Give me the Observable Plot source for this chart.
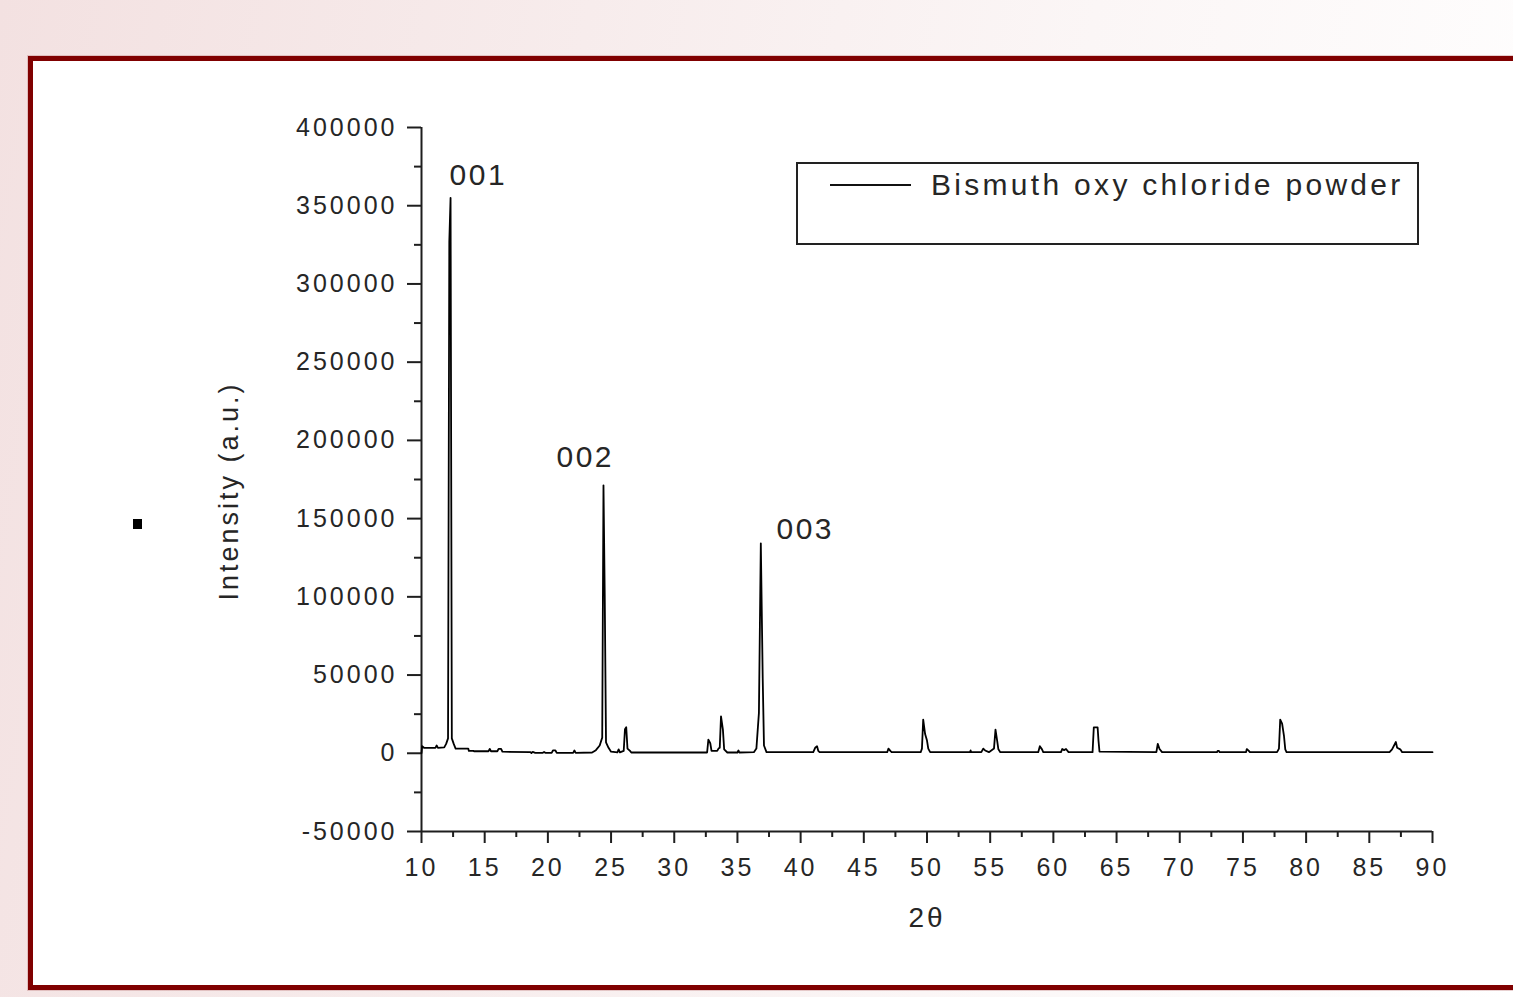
<!DOCTYPE html>
<html>
<head>
<meta charset="utf-8">
<script src="https://cdn.jsdelivr.net/npm/d3@7"></script>
<script src="https://cdn.jsdelivr.net/npm/@observablehq/plot@0.6"></script>
<style>
  html, body { margin: 0; padding: 0; width: 1513px; height: 997px; overflow: hidden; }
  body {
    background: linear-gradient(100deg, #f3e1e1 0%, #f7ecec 35%, #fbf6f6 65%, #ffffff 100%);
    font-family: "Liberation Sans", Arial, sans-serif;
    position: relative;
  }
  #frame {
    position: absolute; left: 28px; top: 56px; width: 1530px; height: 934px;
    box-sizing: border-box; border: 5px solid #800000; background: #fff;
    box-shadow: 0 0 0 1px rgba(190,120,120,0.35);
  }
  #chart { position: absolute; left: 0; top: 0; }
  #chart svg { overflow: visible; background: transparent; }
  #chart text { fill: #262626; }
  #chart g[aria-label="y-axis tick label"] text,
  #chart g[aria-label="x-axis tick label"] text { letter-spacing: 3px; }
  #chart g.peaklab text { letter-spacing: 2.5px; }
  .title { position: absolute; font-size: 27px; line-height: 28px; letter-spacing: 3px; color: #262626; white-space: nowrap; }
  #ytitle { left: 229px; top: 491px; transform: translate(-50%, -50%) rotate(-90deg); }
  #xtitle { left: 927px; top: 918px; transform: translate(-50%, -50%); font-size: 28px; }
  #legend {
    position: absolute; left: 796px; top: 162px; width: 623px; height: 83px;
    box-sizing: border-box; border: 2px solid #222; background: #fff;
  }
  #legline { position: absolute; left: 830px; top: 184px; width: 81px; height: 2px; background: #111; }
  #legtext {
    position: absolute; left: 931px; top: 170px; font-size: 30px; line-height: 30px;
    letter-spacing: 3.3px; color: #262626; white-space: nowrap;
  }
  #marker { position: absolute; left: 133px; top: 519px; width: 9px; height: 10px; background: #000; }
</style>
</head>
<body>
<div id="frame"></div>
<div id="marker"></div>
<div id="legend"></div>
<div id="legline"></div>
<div id="legtext"></div>
<div id="ytitle" class="title"></div>
<div id="xtitle" class="title"></div>
<div id="chart"></div>
<script>
// ---- data ----
const seriesName = "Bismuth oxy chloride powder";
const xTitle = "2θ";
const yTitle = "Intensity (a.u.)";

const twoTheta = [
  10.0, 10.05, 10.2, 10.6, 11.1, 11.2, 11.3, 11.8, 11.95, 12.1, 12.2, 12.3, 12.4, 12.55, 12.7,
  13.7, 13.75, 14.1, 14.15, 15.3, 15.4, 15.5, 16.0, 16.1, 16.3, 16.4, 18.6, 18.7, 18.8, 19.0,
  19.6, 19.7, 19.8, 20.3, 20.4, 20.6, 20.7, 22.0, 22.1, 22.2, 23.5, 23.8, 24.1, 24.3, 24.4,
  24.5, 24.6, 24.8, 25.0, 25.5, 25.6, 25.7, 26.0, 26.1, 26.2, 26.3, 26.5, 26.6, 32.6, 32.7,
  32.85, 32.95, 33.4, 33.5, 33.6, 33.7, 33.85, 33.95, 34.2, 35.0, 35.08, 35.15, 36.3, 36.5, 36.7,
  36.85, 37.0, 37.1, 37.3, 41.0, 41.15, 41.3, 41.4, 41.5, 46.85, 46.95, 47.1, 47.2, 49.5, 49.6,
  49.7, 49.85, 50.0, 50.1, 50.25, 53.4, 53.45, 53.5, 54.3, 54.45, 54.6, 54.9, 55.3, 55.42, 55.55,
  55.65, 55.8, 58.8, 58.93, 59.1, 59.2, 60.6, 60.7, 60.85, 61.0, 61.2, 63.1, 63.2, 63.5, 63.57,
  63.65, 68.15, 68.26, 68.4, 68.6, 72.95, 73.0, 73.1, 73.15, 75.25, 75.3, 75.45, 75.55, 77.7, 77.85,
  77.95, 78.1, 78.25, 78.35, 78.45, 86.6, 86.8, 87.1, 87.2, 87.45, 87.6, 90.0
];
const intensity = [
  0, 4500, 3500, 3500, 3500, 5000, 3500, 3800, 6000, 9500, 327000, 355000, 9500, 6000, 3000,
  3000, 1500, 1500, 1300, 1300, 2800, 1300, 1300, 2800, 2800, 1000, 800, 200, 900, 300,
  300, 800, 300, 300, 1800, 1800, 300, 300, 1800, 300, 500, 2000, 5000, 10000, 171300,
  100400, 7000, 3500, 1000, 600, 2500, 600, 1500, 15300, 16600, 3000, 1500, 500, 500, 8700,
  6400, 1500, 1500, 3000, 3500, 23600, 15100, 2500, 500, 500, 1800, 500, 700, 3000, 25800,
  134200, 47900, 5000, 700, 700, 3500, 4500, 1500, 700, 700, 3000, 1500, 700, 700, 3000,
  21500, 12300, 8100, 3000, 700, 700, 1800, 700, 700, 3000, 1800, 700, 3000, 15100, 8100,
  2500, 700, 700, 4500, 2500, 700, 700, 2700, 2000, 2700, 700, 700, 16600, 16600, 8100,
  1000, 700, 6000, 2700, 700, 700, 1600, 1600, 700, 700, 2700, 1700, 700, 700, 3000,
  21500, 19000, 10900, 2500, 700, 700, 2500, 7200, 3500, 2500, 700, 700
];

const peakLabels = ["001", "002", "003"];
const peakLabelX = [12.22, 20.68, 38.09];
const peakLabelY = [369500, 189200, 143200];

const xMajorTicks = [10, 15, 20, 25, 30, 35, 40, 45, 50, 55, 60, 65, 70, 75, 80, 85, 90];
const xMinorTicks = [12.5, 17.5, 22.5, 27.5, 32.5, 37.5, 42.5, 47.5, 52.5, 57.5, 62.5, 67.5, 72.5, 77.5, 82.5, 87.5];
const yMajorTicks = [-50000, 0, 50000, 100000, 150000, 200000, 250000, 300000, 350000, 400000];
const yMinorTicks = [-25000, 25000, 75000, 125000, 175000, 225000, 275000, 325000, 375000];

// ---- build ----
const rows = twoTheta.map((t, i) => ({t, v: intensity[i]}));
const labels = peakLabels.map((s, i) => ({s, t: peakLabelX[i], v: peakLabelY[i]}));
const font = "Liberation Sans, Arial, sans-serif";
const ink = "#1e1e1e";

const chart = Plot.plot({
  width: 1513,
  height: 997,
  marginLeft: 421,
  marginRight: 81,
  marginTop: 127,
  marginBottom: 166,
  style: {background: "transparent", fontFamily: font, overflow: "visible"},
  x: {domain: [10, 90], axis: null},
  y: {domain: [-50000, 400000], axis: null},
  marks: [
    // minor ticks (no labels)
    Plot.axisY({ticks: yMinorTicks, tickSize: 7, tickFormat: () => "", stroke: ink, strokeWidth: 2, label: null}),
    Plot.axisX({ticks: xMinorTicks, tickSize: 6, tickFormat: () => "", stroke: ink, strokeWidth: 2, label: null}),
    // major ticks + labels
    Plot.axisY({ticks: yMajorTicks, tickSize: 14, tickPadding: 10, tickFormat: d => String(d),
      stroke: ink, strokeWidth: 2, fontSize: 25, label: null}),
    Plot.axisX({ticks: xMajorTicks, tickSize: 12, tickPadding: 15, tickFormat: d => String(d),
      stroke: ink, strokeWidth: 2, fontSize: 25, label: null}),
    // axis lines
    Plot.ruleX([10], {stroke: ink, strokeWidth: 2}),
    Plot.ruleY([-50000], {stroke: ink, strokeWidth: 2}),
    // data
    Plot.line(rows, {x: "t", y: "v", stroke: "#000", strokeWidth: 1.8, curve: "linear"}),
    // peak labels
    Plot.text(labels, {x: "t", y: "v", text: "s", textAnchor: "start", fontSize: 30, fill: ink, className: "peaklab"})
  ]
});
document.getElementById("chart").appendChild(chart);
document.getElementById("legtext").textContent = seriesName;
document.getElementById("ytitle").textContent = yTitle;
document.getElementById("xtitle").textContent = xTitle;
</script>
</body>
</html>
